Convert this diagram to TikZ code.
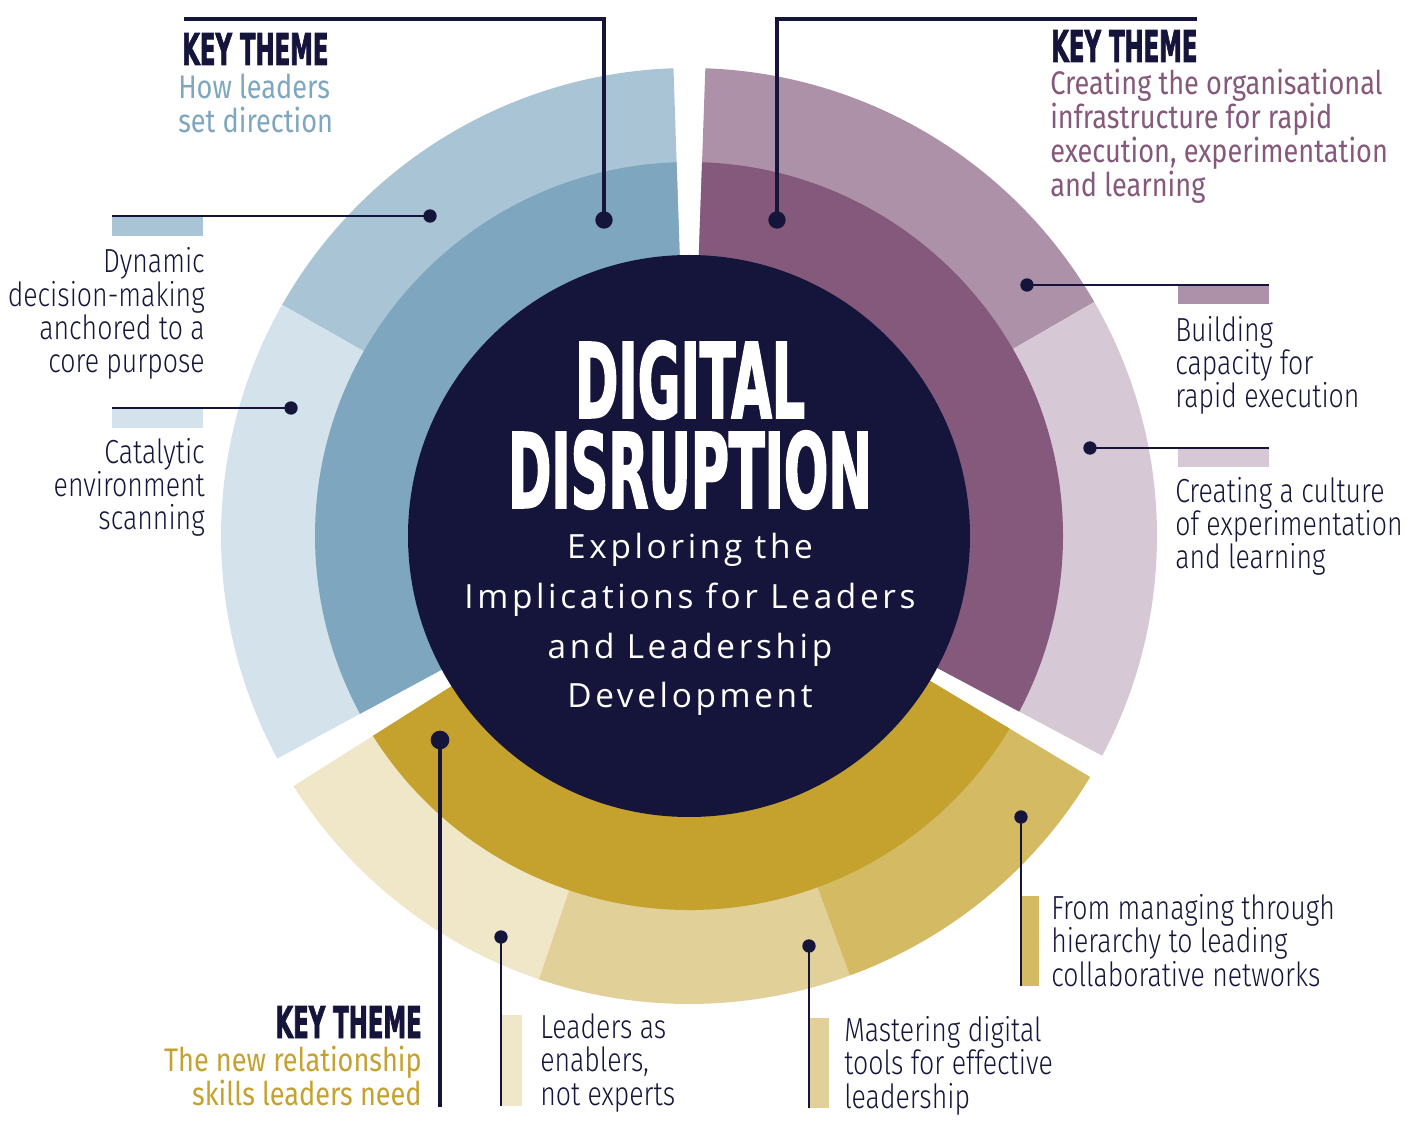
\documentclass[tikz,border=0pt]{standalone}
\usepackage{fontspec}
\setmainfont{Fira Sans}
\newfontfamily\headfont[FakeStretch=0.52,FakeBold=1.5]{DejaVu Sans}
\newfontfamily\titlefont[FakeStretch=0.5,FakeBold=1.5]{DejaVu Sans}
\IfFontExistsTF{Fira Sans Light}
  {\newfontfamily\itemfont[FakeStretch=0.8]{Fira Sans Light}}
  {\newfontfamily\itemfont[FakeStretch=0.78]{Fira Sans}}
\newfontfamily\themefont[FakeStretch=0.83]{Fira Sans}
\newfontfamily\centrefont[LetterSpace=11.0]{Open Sans}

\definecolor{navy}{HTML}{15153B}
\definecolor{bluemid}{HTML}{7EA6BF}
\definecolor{blueouterA}{HTML}{A9C4D5}
\definecolor{blueouterB}{HTML}{D4E3EB}
\definecolor{purplemid}{HTML}{85597B}
\definecolor{purpleouterA}{HTML}{AD91A8}
\definecolor{purpleouterB}{HTML}{D7C8D6}
\definecolor{goldmid}{HTML}{C5A22E}
\definecolor{goldouterA}{HTML}{F0E6C8}
\definecolor{goldouterB}{HTML}{E1D097}
\definecolor{goldouterC}{HTML}{D4BA63}

\tikzset{
  themedot/.style={circle, fill=navy, inner sep=0pt, minimum size=13pt},
  itemdot/.style={circle, fill=navy, inner sep=0pt, minimum size=10pt},
  themeline/.style={draw=navy, line width=3pt},
  itemline/.style={draw=navy, line width=1.9pt},
  keytheme/.style={inner sep=0pt, text=navy, font=\headfont\bfseries\fontsize{32.9}{34}\selectfont},
  themetext/.style={inner sep=0pt, font=\themefont\fontsize{24.5}{25.5}\selectfont},
  itemtext/.style={inner sep=0pt, text=navy, font=\itemfont\fontsize{25}{25.1}\selectfont},
  titletext/.style={inner sep=0pt, text=white, text height=57pt, text depth=0pt, font=\titlefont\bfseries\fontsize{78.2}{80}\selectfont},
}

\begin{document}
\begin{tikzpicture}[x=0.75pt,y=0.75pt,yscale=-1,xscale=1]
\path[use as bounding box] (0,0) rectangle (1411,1126);
\coordinate (c) at (689,536);

%Shape: Outer ring, blue
\fill[blueouterA] (c) -- ++(-91.9:468) arc[start angle=-91.9, end angle=-150.4, radius=468] -- cycle;
\fill[blueouterB] (c) -- ++(-150.4:468) arc[start angle=-150.4, end angle=-208.4, radius=468] -- cycle;
%Shape: Outer ring, purple
\fill[purpleouterA] (c) -- ++(-88:468) arc[start angle=-88, end angle=-30, radius=468] -- cycle;
\fill[purpleouterB] (c) -- ++(-30:468) arc[start angle=-30, end angle=28, radius=468] -- cycle;
%Shape: Outer ring, gold
\fill[goldouterA] (c) -- ++(-212.3:468) arc[start angle=-212.3, end angle=-251.3, radius=468] -- cycle;
\fill[goldouterB] (c) -- ++(-251.3:468) arc[start angle=-251.3, end angle=-290.1, radius=468] -- cycle;
\fill[goldouterC] (c) -- ++(-290.1:468) arc[start angle=-290.1, end angle=-329, radius=468] -- cycle;
%Shape: Middle ring
\fill[bluemid] (c) -- ++(-91.9:374) arc[start angle=-91.9, end angle=-208.4, radius=374] -- cycle;
\fill[purplemid] (c) -- ++(-88:374) arc[start angle=-88, end angle=28, radius=374] -- cycle;
\fill[goldmid] (c) -- ++(-212.3:374) arc[start angle=-212.3, end angle=-329, radius=374] -- cycle;
%Shape: Circle
\fill[navy] (c) circle[radius=281];

%Shape: Bars
\fill[blueouterA] (112,216) rectangle (203,236);
\fill[blueouterB] (112,408) rectangle (203,428);
\fill[purpleouterA] (1178,285) rectangle (1269,304);
\fill[purpleouterB] (1178,448) rectangle (1269,467);
\fill[goldouterA] (501,1015) rectangle (522,1106);
\fill[goldouterB] (809,1018) rectangle (829,1108);
\fill[goldouterC] (1021,896) rectangle (1039,986);

% Dots
\node[themedot] (bluedot) at (604,220) {};
\node[themedot] (purpledot) at (777,220) {};
\node[themedot, minimum size=14pt] (golddot) at (440,740) {};
\node[itemdot] (dynamicdot) at (430,216) {};
\node[itemdot] (catalyticdot) at (291,408) {};
\node[itemdot] (buildingdot) at (1027,285) {};
\node[itemdot] (culturedot) at (1090,448) {};
\node[itemdot] (enablersdot) at (501,937) {};
\node[itemdot] (masteringdot) at (809,946) {};
\node[itemdot] (managingdot) at (1021,817) {};

% Line ends
\coordinate (blueend) at (184,19);
\coordinate (purpleend) at (1197,19);
\coordinate (goldend) at (440,1107);
\coordinate (dynamicend) at (112,216);
\coordinate (catalyticend) at (112,408);
\coordinate (buildingend) at (1269,285);
\coordinate (cultureend) at (1269,448);
\coordinate (enablersend) at (501,1106);
\coordinate (masteringend) at (809,1108);
\coordinate (managingend) at (1021,986);

%Straight Lines
\draw[themeline] (bluedot.center) |- (blueend);
\draw[themeline] (purpledot.center) |- (purpleend);
\draw[themeline] (golddot.center) -- (goldend);
\draw[itemline] (dynamicdot.center) -- (dynamicend);
\draw[itemline] (catalyticdot.center) -- (catalyticend);
\draw[itemline] (buildingdot.center) -- (buildingend);
\draw[itemline] (culturedot.center) -- (cultureend);
\draw[itemline] (enablersdot.center) -- (enablersend);
\draw[itemline] (masteringdot.center) -- (masteringend);
\draw[itemline] (managingdot.center) -- (managingend);

% Text Node (multi-line nodes sit on the baseline of their last line)
\node[keytheme, anchor=base west] (bluekey) at (182,65) {KEY THEME};
% Text Node
\node[themetext, text=bluemid, anchor=base west, align=left] (bluetheme) at (178,133) {How leaders\\set direction};
% Text Node
\node[keytheme, anchor=base west] (purplekey) at (1051,62) {KEY THEME};
% Text Node
\node[themetext, text=purplemid, anchor=base west, align=left] (purpletheme) at (1050,197) {Creating the organisational\\infrastructure for rapid\\execution, experimentation\\and learning};
% Text Node
\node[keytheme, anchor=base east] (goldkey) at (422,1038) {KEY THEME};
% Text Node
\node[themetext, text=goldmid, anchor=base east, align=right] (goldtheme) at (422,1105) {The new relationship\\skills leaders need};
% Text Node
\node[itemtext, anchor=base east, align=right] (dynamictext) at (205,373) {Dynamic\\decision-making\\anchored to a\\core purpose};
% Text Node
\node[itemtext, anchor=base east, align=right] (catalytictext) at (205,530) {Catalytic\\environment\\scanning};
% Text Node
\node[itemtext, anchor=base west, align=left] (buildingtext) at (1175,408) {Building\\capacity for\\rapid execution};
% Text Node
\node[itemtext, anchor=base west, align=left] (culturetext) at (1175,569) {Creating a culture\\of experimentation\\and learning};
% Text Node
\node[itemtext, anchor=base west, align=left] (managingtext) at (1051,986) {From managing through\\hierarchy to leading\\collaborative networks};
% Text Node
\node[itemtext, anchor=base west, align=left] (enablerstext) at (540,1105) {Leaders as\\enablers,\\not experts};
% Text Node
\node[itemtext, anchor=base west, align=left] (masteringtext) at (844,1108) {Mastering digital\\tools for effective\\leadership};
% Text Node
\node[titletext, anchor=base] (digital) at (690,418) {DIGITAL};
% Text Node
\node[titletext, anchor=base] (disruption) at (690,508) {DISRUPTION};
% Text Node
\node[inner sep=0pt, anchor=base, text=white, align=center, font=\centrefont\fontsize{25}{37.5}\selectfont] (subtitle) at (690,708) {Exploring the\\Implications for Leaders\\and Leadership\\Development};

\end{tikzpicture}
\end{document}
